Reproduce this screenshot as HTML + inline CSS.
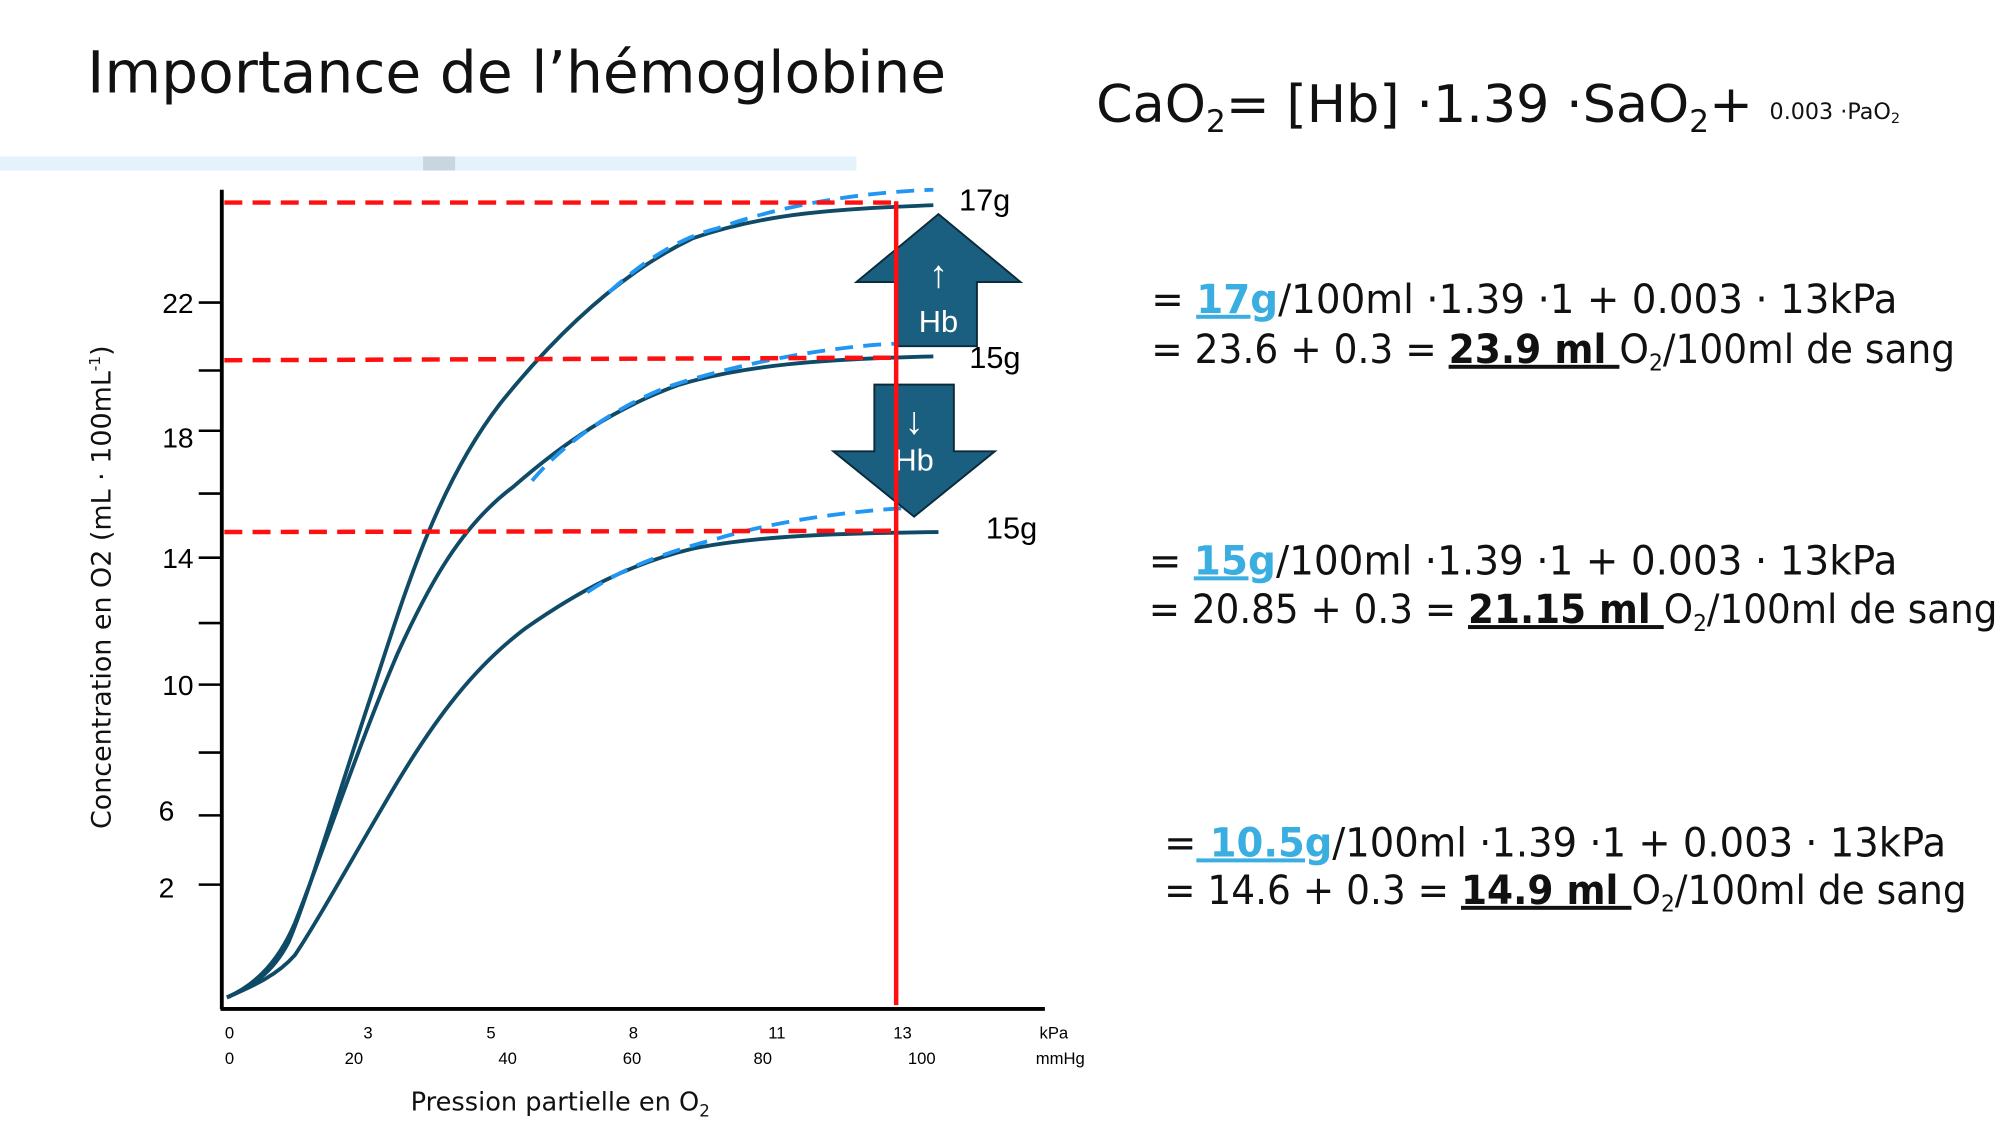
<!DOCTYPE html>
<html><head><meta charset="utf-8"><style>html,body{margin:0;padding:0;background:#fff}svg{display:block}</style></head>
<body>
<svg width="2000" height="1125" viewBox="0 0 1560 877.5" xmlns="http://www.w3.org/2000/svg" font-family="'DejaVu Sans','Liberation Sans',sans-serif">
<rect width="1560" height="877.5" fill="#fff"/>
<text x="68" y="72" font-size="45" fill="#111" textLength="670" lengthAdjust="spacingAndGlyphs">Importance de l’hémoglobine</text>
<rect x="0" y="122" width="668" height="11" fill="#e3f2fb"/>
<rect x="330" y="122" width="25" height="11" fill="#c8d6df"/>

<line x1="173" y1="148" x2="173" y2="787" stroke="#000" stroke-width="3"/>
<line x1="172" y1="787" x2="815" y2="787" stroke="#000" stroke-width="3"/>
<g stroke="#000" stroke-width="2">
<line x1="155" y1="236" x2="173" y2="236"/><line x1="155" y1="289" x2="173" y2="289"/>
<line x1="155" y1="336" x2="173" y2="336"/><line x1="155" y1="385" x2="173" y2="385"/>
<line x1="155" y1="435" x2="173" y2="435"/><line x1="155" y1="486" x2="173" y2="486"/>
<line x1="155" y1="534" x2="173" y2="534"/><line x1="155" y1="587" x2="173" y2="587"/>
<line x1="155" y1="636" x2="173" y2="636"/><line x1="155" y1="690" x2="173" y2="690"/>
</g>
<g font-family="'Liberation Sans',sans-serif" font-size="22" fill="#000" text-anchor="end">
<text x="151" y="244">22</text><text x="151" y="349">18</text><text x="151" y="443">14</text>
<text x="151" y="542">10</text><text x="136" y="640">6</text><text x="136" y="700">2</text>
</g>
<text transform="translate(86,458) rotate(-90)" text-anchor="middle" font-size="21" fill="#111">Concentration en O2 (mL · 100mL<tspan font-size="12" dy="-8">-1</tspan><tspan dy="8">)</tspan></text>
<g font-family="'Liberation Sans',sans-serif" font-size="13" fill="#000" text-anchor="middle">
<text x="179" y="810">0</text><text x="287" y="810">3</text><text x="383" y="810">5</text><text x="494" y="810">8</text><text x="606" y="810">11</text><text x="704" y="810">13</text><text x="822" y="810">kPa</text>
<text x="179" y="830">0</text><text x="276" y="830">20</text><text x="396" y="830">40</text><text x="493" y="830">60</text><text x="595" y="830">80</text><text x="719" y="830">100</text><text x="827" y="830">mmHg</text>
</g>
<text x="437" y="866" text-anchor="middle" font-size="20" fill="#111">Pression partielle en O<tspan font-size="13" dy="5">2</tspan></text>

<g fill="none" stroke="#0f4a66" stroke-width="3">
<path d="M177,778 C195,770 212,760 225,735 C240,700 262,625 292,535 C315,465 340,380 390,315 C430,265 480,215 540,186 C600,165 660,163 728,160"/>
<path d="M177,778 C195,770 215,755 230,720 C250,670 280,580 310,510 C335,455 360,410 400,380 C440,345 480,318 530,300 C580,285 640,280 728,278"/>
<path d="M177,778 C195,770 215,762 230,745 C250,715 280,660 310,610 C340,560 370,520 410,490 C450,462 490,440 540,428 C590,418 650,416 732,415"/>
</g>
<g fill="none" stroke="#2196f3" stroke-width="3" stroke-dasharray="14,8">
<path d="M475,228 C500,205 530,185 560,178 C610,160 670,150 728,148"/>
<path d="M415,375 C440,345 480,318 520,302 C580,282 650,270 700,268"/>
<path d="M458,462 C490,440 530,428 560,420 C610,405 670,398 712,396"/>
</g>

<g fill="#1a5f80" stroke="#0b2a3a" stroke-width="1.5">
<polygon points="732,167 796,220 762,220 762,270 700,270 700,220 668,220"/>
<polygon points="682,300 744,300 744,352 776,352 713,403 650,352 682,352"/>
</g>
<g fill="#fff" font-family="'Liberation Sans',sans-serif" text-anchor="middle">
<text x="732" y="224" font-size="30">↑</text><text x="732" y="259" font-size="24">Hb</text>
<text x="713" y="338" font-size="30">↓</text><text x="713" y="367" font-size="24">Hb</text>
</g>

<g stroke="#ff1010" stroke-width="3.5" fill="none">
<line x1="175" y1="158" x2="699" y2="158" stroke-dasharray="14,8"/>
<line x1="175" y1="281" x2="699" y2="279" stroke-dasharray="14,8"/>
<line x1="175" y1="415" x2="699" y2="414" stroke-dasharray="14,8"/>
<line x1="699" y1="157" x2="699" y2="784"/>
</g>
<g font-family="'Liberation Sans',sans-serif" font-size="24" fill="#000">
<text x="748" y="164">17g</text><text x="756" y="287">15g</text><text x="769" y="420">15g</text>
</g>

<text x="855" y="95" font-size="40" fill="#111" textLength="627" lengthAdjust="spacingAndGlyphs">CaO<tspan font-size="24" dy="8">2</tspan><tspan dy="-8">= [Hb]  ·1.39  ·SaO</tspan><tspan font-size="24" dy="8">2</tspan><tspan dy="-8">+ </tspan><tspan font-size="17" dy="-2"> 0.003 ·PaO</tspan><tspan font-size="11" dy="3">2</tspan></text>

<g font-size="31" fill="#111">
<text x="898" y="244" textLength="582" lengthAdjust="spacingAndGlyphs">= <tspan fill="#3aaee0" font-weight="bold" text-decoration="underline">17g</tspan>/100ml  ·1.39  ·1 + 0.003 ·  13kPa</text>
<text x="898" y="283" textLength="627" lengthAdjust="spacingAndGlyphs">= 23.6 + 0.3  = <tspan font-weight="bold" text-decoration="underline">23.9 ml </tspan>O<tspan font-size="18" dy="6">2</tspan><tspan dy="-6">/100ml de sang</tspan></text>
<text x="896" y="448" textLength="584" lengthAdjust="spacingAndGlyphs">= <tspan fill="#3aaee0" font-weight="bold" text-decoration="underline">15g</tspan>/100ml  ·1.39  ·1 + 0.003 ·  13kPa</text>
<text x="896" y="486" textLength="662" lengthAdjust="spacingAndGlyphs">= 20.85 + 0.3  = <tspan font-weight="bold" text-decoration="underline">21.15 ml </tspan>O<tspan font-size="18" dy="6">2</tspan><tspan dy="-6">/100ml de sang</tspan></text>
<text x="908" y="668" textLength="610" lengthAdjust="spacingAndGlyphs">=<tspan fill="#3aaee0" font-weight="bold" text-decoration="underline"> 10.5g</tspan>/100ml  ·1.39  ·1 + 0.003 ·  13kPa</text>
<text x="908" y="705" textLength="626" lengthAdjust="spacingAndGlyphs">= 14.6 + 0.3  = <tspan font-weight="bold" text-decoration="underline">14.9 ml </tspan>O<tspan font-size="18" dy="6">2</tspan><tspan dy="-6">/100ml de sang</tspan></text>
</g>
</svg>
</body></html>
